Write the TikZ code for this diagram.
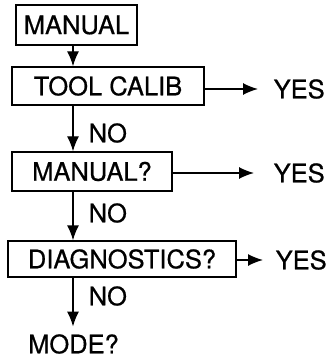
\documentclass[tikz,border=0pt]{standalone}
\usepackage{fontspec}
\setmainfont{TeX Gyre Heros}[FakeBold=0.6]
\usetikzlibrary{arrows.meta}

\begin{document}
\begin{tikzpicture}[x=1pt,y=-1pt,>={Latex[length=15pt,width=12pt]},line width=1.4pt]
    \tikzstyle{every node}=[font=\fontsize{25.5}{30}\selectfont, inner sep=0pt]
    \tikzstyle{menu}=[draw, rectangle]
    \useasboundingbox (0,0) rectangle (327,358);
    \coordinate (spine) at (73,0);

	\node [menu, minimum width=121pt, minimum height=40pt] (manual) at (76.5,25) {MANUAL};
	\node [menu, minimum width=192pt, minimum height=38pt] (tool) at (108,86) {TOOL CALIB};
	\node [menu, minimum width=160pt, minimum height=39pt] (query) at (92,171.5) {MANUAL?};
	\node [menu, minimum width=228pt, minimum height=36pt] (diag) at (122,259) {DIAGNOSTICS?};
	\node (mode) at (73.5,344) {MODE?};

	\node [anchor=west] (yes1) at (273,89) {YES};
	\node [anchor=west] (yes2) at (273,173) {YES};
	\node [anchor=west] (yes3) at (275,260) {YES};

	\node [anchor=west] (no1) at (88,133) {NO};
	\node [anchor=west] (no2) at (88,213) {NO};
	\node [anchor=west] (no3) at (88,296) {NO};

	\draw [->] (manual.south -| spine) -- (tool.north -| spine);
	\draw [->] (tool.south -| spine) -- (query.north -| spine);
	\draw [->] (query.south -| spine) -- (diag.north -| spine);
	\draw [->, shorten >=7pt] (diag.south -| spine) -- (mode.north -| spine);

	\draw [->, shorten >=15pt] (tool.east |- yes1.west) -- (yes1.west);
	\draw [->, shorten >=19pt] (query.east |- yes2.west) -- (yes2.west);
	\draw [->, shorten >=12pt] (diag.east |- yes3.west) -- (yes3.west);
\end{tikzpicture}
\end{document}
